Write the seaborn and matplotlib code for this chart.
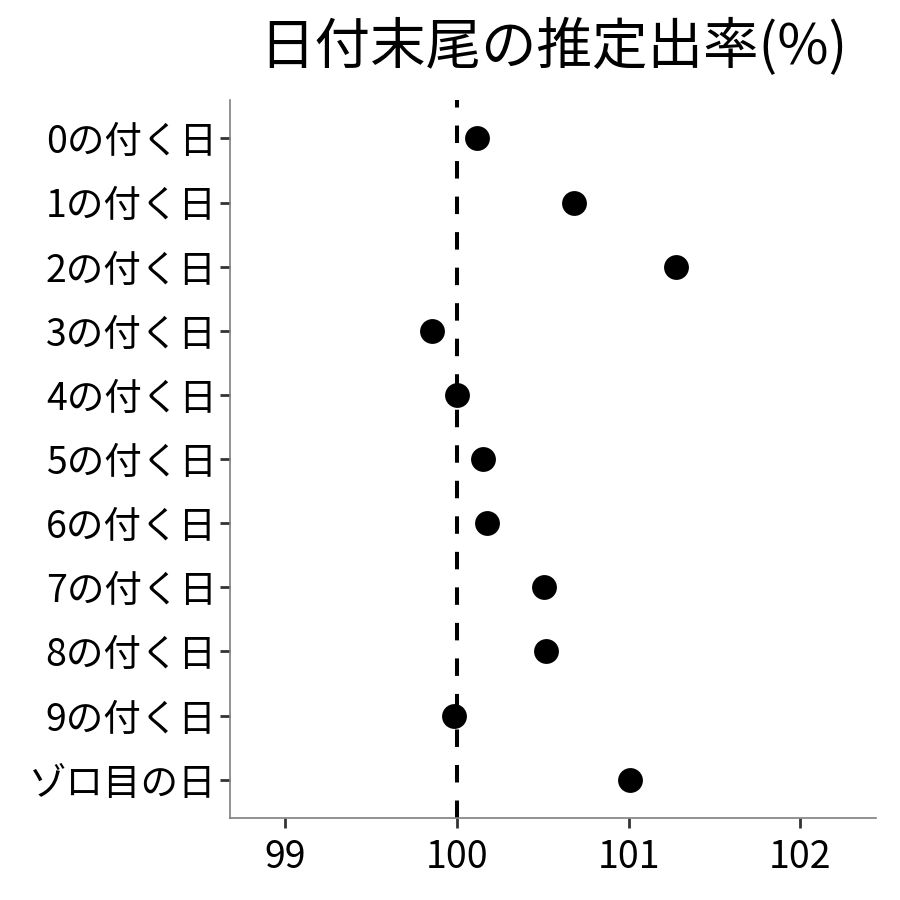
import pandas as pd
import numpy as np
import matplotlib.pyplot as plt
import seaborn as sns

sns.set_theme(style="white")
plt.rcParams['font.family'] = ['Noto Sans CJK JP', 'DejaVu Sans']

labels = ['0の付く日', '1の付く日', '2の付く日', '3の付く日', '4の付く日',
          '5の付く日', '6の付く日', '7の付く日', '8の付く日', '9の付く日', 'ゾロ目の日']
rates = [100.116, 100.68, 101.275, 99.855, 100.0, 100.15, 100.175,
         100.507, 100.52, 99.985, 101.007]

df = pd.DataFrame({'label': labels, 'rate': rates})

fig, ax = plt.subplots(figsize=(9, 9), dpi=100)
fig.subplots_adjust(left=0.256, right=0.973, top=0.889, bottom=0.091)

# reference line at 100 (ggplot-style dashes)
ax.axvline(100, color='black', lw=2.9, linestyle=(0, (4.34, 4.48)), zorder=1)
sns.scatterplot(data=df, x='rate', y='label', color='black', s=320,
                edgecolor='black', linewidth=0, ax=ax, zorder=3)

ax.set_xlim(98.68, 102.44)
ax.set_ylim(len(labels) - 0.4, -0.6)
ax.set_xticks([99, 100, 101, 102])
ax.set_xlabel('')
ax.set_ylabel('')
ax.set_title('日付末尾の推定出率(%)', fontsize=40, pad=26, color='black')

sns.despine(ax=ax)
for side in ['left', 'bottom']:
    ax.spines[side].set_color('#7f7f7f')
    ax.spines[side].set_linewidth(1.2)
ax.tick_params(axis='both', which='major', labelsize=27, length=7,
               width=2, color='#333333', labelcolor='black', pad=3,
               left=True, bottom=True)
ax.tick_params(axis='x', pad=7)

plt.savefig('out.png', dpi=100)
